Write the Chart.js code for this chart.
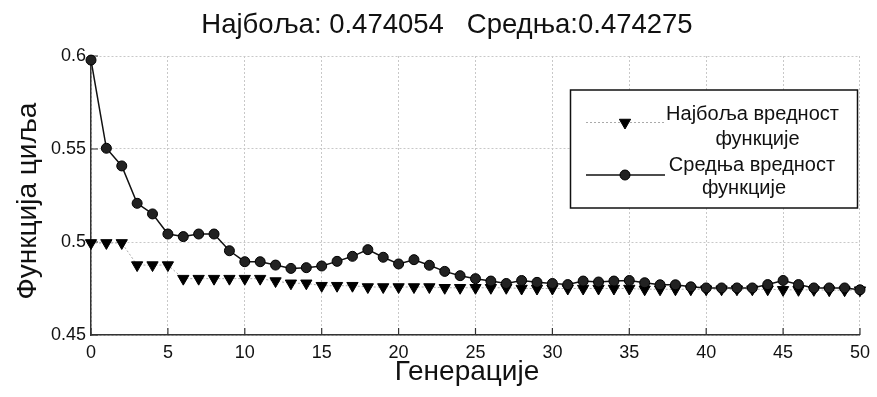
<!DOCTYPE html>
<html>
<head>
<meta charset="utf-8">
<script src="https://cdn.jsdelivr.net/npm/chart.js@4.4.1/dist/chart.umd.min.js"></script>
<style>
  html, body { margin: 0; padding: 0; background: #fff; }
  #wrap { width: 877px; height: 397px; }
</style>
</head>
<body>
<div id="wrap"><canvas id="myChart" width="877" height="397"></canvas></div>
<script>
// generations 0..50
const generations = [0,1,2,3,4,5,6,7,8,9,10,11,12,13,14,15,16,17,18,19,20,21,22,23,24,25,
  26,27,28,29,30,31,32,33,34,35,36,37,38,39,40,41,42,43,44,45,46,47,48,49,50];

// best value per generation (triangles)
const bestValues = [0.4995,0.4995,0.4995,0.4876,0.4876,0.4876,0.4803,0.4803,0.4803,0.4803,0.4803,0.4803,
  0.4790,0.4778,0.4778,0.4765,0.4765,0.4765,0.4758,0.4758,0.4758,0.4758,0.4758,0.4754,0.4754,0.4754,
  0.4754,0.4754,0.4750,0.4750,0.4750,0.4750,0.4750,0.4750,0.4750,0.4750,0.4746,0.4746,0.4746,0.4746,
  0.4746,0.4746,0.4746,0.4746,0.4746,0.4743,0.4743,0.4743,0.4741,0.4741,0.4741];

// mean value per generation (circles)
const meanValues = [0.5978,0.5504,0.5409,0.5208,0.5151,0.5043,0.5029,0.5043,0.5043,0.4953,0.4894,0.4894,
  0.4876,0.4858,0.4862,0.4871,0.4896,0.4923,0.4959,0.4918,0.4882,0.4905,0.4875,0.4842,0.4819,0.4803,
  0.4790,0.4777,0.4793,0.4783,0.4777,0.4771,0.4790,0.4785,0.4790,0.4793,0.4781,0.4770,0.4770,0.4759,
  0.4753,0.4753,0.4753,0.4753,0.4771,0.4793,0.4771,0.4753,0.4753,0.4753,0.4743];

const xTicks = [0,5,10,15,20,25,30,35,40,45,50];
const yTicks = [0.45,0.5,0.55,0.6];

const seriesNames = [['Најбоља вредност', 'функције'], ['Средња вредност', 'функције']];
const titleText = 'Најбоља: 0.474054   Средња:0.474275';
const xTitle = 'Генерације';
const yTitle = 'Функција циља';

const FONT = "'Liberation Sans', Arial, sans-serif";

// matlab style ticks pointing into the plot
const innerTicks = {
  id: 'innerTicks',
  beforeDatasetsDraw(chart) {
    const ctx = chart.ctx;
    const x = chart.scales.x, y = chart.scales.y;
    const a = chart.chartArea;
    ctx.save();
    ctx.strokeStyle = '#333';
    ctx.lineWidth = 1.2;
    ctx.beginPath();
    xTicks.forEach(v => {
      const px = x.getPixelForValue(v);
      ctx.moveTo(px, a.bottom);
      ctx.lineTo(px, a.bottom - 7);
    });
    yTicks.forEach(v => {
      const py = y.getPixelForValue(v);
      ctx.moveTo(a.left, py);
      ctx.lineTo(a.left + 7, py);
    });
    ctx.stroke();
    ctx.restore();
  }
};

// title and axis titles, placed like the matlab figure
const figureText = {
  id: 'figureText',
  afterDraw(chart) {
    const ctx = chart.ctx;
    ctx.save();
    ctx.fillStyle = '#111';
    ctx.textAlign = 'center';
    ctx.textBaseline = 'middle';
    ctx.font = '27.5px ' + FONT;
    ctx.fillText(titleText, 447, 25.5);
    ctx.font = '28px ' + FONT;
    ctx.fillText(xTitle, 467, 372);
    ctx.translate(28, 201);
    ctx.rotate(-Math.PI / 2);
    ctx.fillText(yTitle, 0, 0);
    ctx.restore();
  }
};

// boxed legend with two-line labels, inside the axes
const boxLegend = {
  id: 'boxLegend',
  afterDraw(chart) {
    const ctx = chart.ctx;
    const bx = 570.5, by = 90, bw = 287, bh = 118;
    ctx.save();
    ctx.fillStyle = '#fff';
    ctx.fillRect(bx, by, bw, bh);
    ctx.strokeStyle = '#111';
    ctx.lineWidth = 1.5;
    ctx.strokeRect(bx, by, bw, bh);

    const rows = [
      { lineY: 122.5, textY: [114.7, 139.5], textX: [752.5, 757.5] },
      { lineY: 175, textY: [165.3, 188.5], textX: [752, 744] }
    ];
    chart.data.datasets.forEach((ds, i) => {
      const r = rows[i];
      ctx.save();
      ctx.strokeStyle = ds.borderColor;
      ctx.lineWidth = ds.borderWidth;
      ctx.setLineDash(ds.borderDash || []);
      ctx.beginPath();
      ctx.moveTo(586, r.lineY);
      ctx.lineTo(665, r.lineY);
      ctx.stroke();
      ctx.restore();
      ctx.save();
      ctx.lineWidth = 1;
      ctx.strokeStyle = ds.pointBorderColor;
      ctx.fillStyle = ds.pointBackgroundColor;
      Chart.helpers.drawPoint(ctx, {
        pointStyle: ds.pointStyle, radius: ds.pointRadius, rotation: ds.rotation || 0, borderWidth: 1
      }, 625, r.lineY);
      ctx.restore();

      ctx.fillStyle = '#111';
      ctx.font = '20px ' + FONT;
      ctx.textBaseline = 'middle';
      ctx.textAlign = 'center';
      ds.label.forEach((t, k) => ctx.fillText(t, r.textX[k], r.textY[k]));
    });
    ctx.restore();
  }
};

new Chart(document.getElementById('myChart'), {
  type: 'line',
  data: {
    datasets: [
      {
        label: seriesNames[0],
        data: generations.map((g, i) => ({ x: g, y: bestValues[i] })),
        borderColor: '#aaa',
        borderWidth: 1,
        borderDash: [2, 2],
        pointStyle: 'triangle',
        rotation: 180,
        pointRadius: 6.5,
        pointBackgroundColor: '#000',
        pointBorderColor: '#000',
        pointBorderWidth: 1,
        clip: false,
        order: 2
      },
      {
        label: seriesNames[1],
        data: generations.map((g, i) => ({ x: g, y: meanValues[i] })),
        borderColor: '#111',
        borderWidth: 1.5,
        pointStyle: 'circle',
        pointRadius: 5,
        pointBackgroundColor: '#222',
        pointBorderColor: '#000',
        pointBorderWidth: 1,
        clip: false,
        order: 1
      }
    ]
  },
  options: {
    responsive: false,
    animation: false,
    events: [],
    layout: { padding: { left: 0, right: 11, top: 56, bottom: 0 } },
    plugins: {
      legend: { display: false },
      tooltip: { enabled: false },
      title: { display: false }
    },
    scales: {
      x: {
        type: 'linear',
        min: 0,
        max: 50,
        afterBuildTicks: s => { s.ticks = xTicks.map(v => ({ value: v })); },
        afterFit: s => { s.height = 62; },
        grid: { color: '#c8c8c8', lineWidth: 1, drawTicks: false },
        border: { display: true, color: '#333', width: 1.5, dash: [2, 2] },
        ticks: { color: '#111', font: { family: FONT, size: 18 }, padding: 7, maxRotation: 0 }
      },
      y: {
        min: 0.45,
        max: 0.6,
        afterBuildTicks: s => { s.ticks = yTicks.map(v => ({ value: v })); },
        afterFit: s => { s.width = 91; },
        grid: { color: '#c8c8c8', lineWidth: 1, drawTicks: false },
        border: { display: true, color: '#333', width: 1.5, dash: [2, 2] },
        ticks: { color: '#111', font: { family: FONT, size: 18 }, padding: 5,
          callback: v => String(+v.toFixed(2)) }
      }
    }
  },
  plugins: [innerTicks, figureText, boxLegend]
});
</script>
</body>
</html>
